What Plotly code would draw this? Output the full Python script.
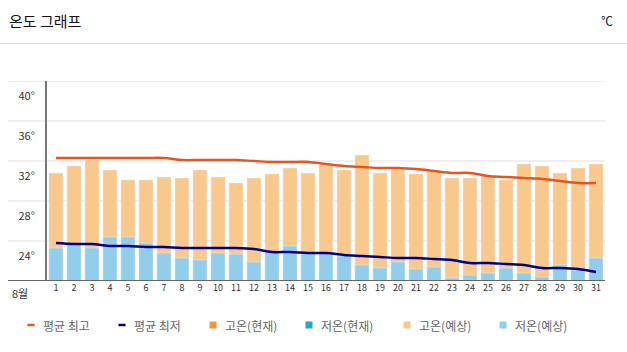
import plotly.graph_objects as go

days = list(range(1, 32))
day_labels = [str(d) for d in days]
high_forecast = [32.3, 33.0, 33.6, 32.6, 31.6, 31.6, 31.9, 31.8, 32.6, 31.9,
                 31.3, 31.8, 32.2, 32.8, 32.3, 33.1, 32.6, 34.1, 32.3, 32.7,
                 32.2, 32.5, 31.8, 31.8, 32.0, 31.6, 33.2, 33.0, 32.3, 32.8, 33.2]
low_forecast = [24.8, 25.2, 24.8, 25.9, 25.9, 25.3, 24.3, 23.8, 23.6, 24.3,
                24.2, 23.4, 24.4, 25.0, 24.3, 24.3, 24.0, 23.1, 22.8, 23.4,
                22.7, 22.9, 21.8, 22.1, 22.3, 22.8, 22.3, 21.9, 23.1, 22.6, 23.8]
avg_high = [33.8, 33.8, 33.8, 33.8, 33.8, 33.8, 33.8, 33.6, 33.6, 33.6,
            33.6, 33.5, 33.4, 33.4, 33.4, 33.2, 33.0, 32.9, 32.8, 32.8,
            32.7, 32.5, 32.3, 32.3, 32.0, 31.9, 31.8, 31.7, 31.5, 31.3, 31.3]
avg_low = [25.3, 25.2, 25.2, 25.0, 25.0, 24.9, 24.9, 24.8, 24.8, 24.8,
           24.8, 24.7, 24.4, 24.4, 24.3, 24.3, 24.1, 24.0, 23.9, 23.8,
           23.8, 23.7, 23.6, 23.3, 23.3, 23.2, 23.1, 22.8, 22.8, 22.7, 22.4]
y_ticks = [24, 28, 32, 36, 40]
y_tick_labels = ["24°", "28°", "32°", "36°", "40°"]
grid_vals = [25.5, 29.5, 33.5, 37.5, 41.5]
y_min, y_max = 21.5, 41.5
legend_names = ["평균 최고", "평균 최저", "고온(현재)", "저온(현재)", "고온(예상)", "저온(예상)"]

C_AVG_HIGH = "#E5561F"
C_AVG_LOW = "#00008B"
C_HIGH_NOW = "#F7943C"
C_LOW_NOW = "#2A9ED8"
C_HIGH_FC = "#F9C88D"
C_LOW_FC = "#92CDEA"
legend_colors = [C_AVG_HIGH, C_AVG_LOW, C_HIGH_NOW, C_LOW_NOW, C_HIGH_FC, C_LOW_FC]
legend_kinds = ["line", "line", "square", "square", "square", "square"]
FONT = "Noto Sans CJK KR"

W, H = 627, 352
ML, MR, MT, MB = 47, 22, 81, 71
PW = W - ML - MR
PH = H - MT - MB


def px(xp):
    return (xp - ML) / PW


def py(yp):
    return (H - MB - yp) / PH


fig = go.Figure()
fig.add_trace(go.Bar(x=days, y=high_forecast, marker_color=C_HIGH_FC, name="고온(예상)",
                     showlegend=False, hoverinfo="skip"))
fig.add_trace(go.Bar(x=days, y=low_forecast, marker_color=C_LOW_FC, name="저온(예상)",
                     showlegend=False, hoverinfo="skip"))
fig.add_trace(go.Scatter(x=days, y=avg_high, mode="lines", name="평균 최고",
                         line=dict(color=C_AVG_HIGH, width=2.5, shape="spline"), showlegend=False))
fig.add_trace(go.Scatter(x=days, y=avg_low, mode="lines", name="평균 최저",
                         line=dict(color=C_AVG_LOW, width=2.5, shape="spline"), showlegend=False))

# grid lines (extend left beyond axis)
for g in grid_vals:
    fig.add_shape(type="line", xref="paper", yref="y", x0=px(8), x1=1, y0=g, y1=g,
                  line=dict(color="#EFEFEF", width=2), layer="below")
fig.add_shape(type="line", xref="paper", yref="y", x0=px(8), x1=1, y0=y_min, y1=y_min,
              line=dict(color="#666666", width=2), layer="above")
# header separator
fig.add_shape(type="line", xref="paper", yref="paper", x0=px(0), x1=px(W),
              y0=py(43.5), y1=py(43.5), line=dict(color="#DDDDDD", width=1))

fig.add_annotation(text="온도 그래프", xref="paper", yref="paper", x=px(7), y=py(21),
                   xanchor="left", yanchor="middle", showarrow=False,
                   font=dict(family=FONT, size=15, color="#111111"))
fig.add_annotation(text="℃", xref="paper", yref="paper", x=px(615), y=py(20),
                   xanchor="right", yanchor="middle", showarrow=False,
                   font=dict(family=FONT, size=12, color="#222222"))
fig.add_annotation(text="8월", xref="paper", yref="paper", x=px(30), y=py(293),
                   xanchor="right", yanchor="middle", showarrow=False,
                   font=dict(family=FONT, size=11, color="#333333"))

# custom legend
sym_x = [31, 122, 213, 309, 407, 503]
ly = 325
for name, col, kind, sx in zip(legend_names, legend_colors, legend_kinds, sym_x):
    if kind == "line":
        fig.add_shape(type="line", xref="paper", yref="paper", x0=px(sx - 3.5), x1=px(sx + 3.5),
                      y0=py(ly), y1=py(ly), line=dict(color=col, width=2.5))
    else:
        fig.add_shape(type="rect", xref="paper", yref="paper", x0=px(sx - 3.5), x1=px(sx + 3.5),
                      y0=py(ly - 3.5), y1=py(ly + 3.5), fillcolor=col, line=dict(width=0))
    fig.add_annotation(text=name, xref="paper", yref="paper", x=px(sx + 10), y=py(ly),
                       xanchor="left", yanchor="middle", showarrow=False,
                       font=dict(family=FONT, size=12, color="#666666"))

fig.update_layout(
    width=W, height=H,
    margin=dict(l=ML, r=MR, t=MT, b=MB),
    paper_bgcolor="white", plot_bgcolor="white",
    barmode="overlay", bargap=0.22,
    font=dict(family=FONT, color="#333333"),
    showlegend=False,
    xaxis=dict(range=[0.5, 31.5], tickmode="array", tickvals=days, ticktext=day_labels,
               showgrid=False, zeroline=False, showline=False, ticks="",
               tickfont=dict(family=FONT, size=9, color="#333333"), fixedrange=True),
    yaxis=dict(range=[y_min, y_max], tickmode="array", tickvals=y_ticks, ticktext=y_tick_labels,
               showgrid=False, zeroline=False, showline=True, linecolor="#777777", linewidth=2,
               ticks="", ticklabelstandoff=8,
               tickfont=dict(family=FONT, size=11, color="#333333"), fixedrange=True),
)

fig.write_html("out.html")
